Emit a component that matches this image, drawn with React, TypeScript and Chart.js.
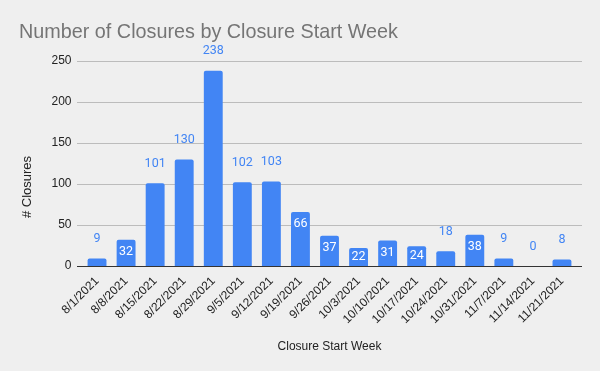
import React, { useEffect, useRef } from "react";
import { Chart, registerables } from "chart.js";

Chart.register(...registerables);

const weeks = [
  "8/1/2021", "8/8/2021", "8/15/2021", "8/22/2021", "8/29/2021", "9/5/2021",
  "9/12/2021", "9/19/2021", "9/26/2021", "10/3/2021", "10/10/2021", "10/17/2021",
  "10/24/2021", "10/31/2021", "11/7/2021", "11/14/2021", "11/21/2021",
];
const closures = [9, 32, 101, 130, 238, 102, 103, 66, 37, 22, 31, 24, 18, 38, 9, 0, 8];
const yTicks = [0, 50, 100, 150, 200, 250];

const TITLE = "Number of Closures by Closure Start Week";
const X_TITLE = "Closure Start Week";
const Y_TITLE = "# Closures";

const BLUE = "#4285f4";

const decor = {
  id: "decor",
  beforeDatasetsDraw(chart: any) {
    const { ctx, chartArea } = chart;
    const y = chart.scales.y;
    const l = chartArea.left - 5.5;
    const r = chartArea.right + 5.5;
    ctx.save();
    ctx.strokeStyle = "#bcbcbc";
    ctx.lineWidth = 1;
    yTicks.forEach((t) => {
      if (t === 0) return;
      const py = Math.round(y.getPixelForValue(t)) + 0.5;
      ctx.beginPath();
      ctx.moveTo(l, py);
      ctx.lineTo(r, py);
      ctx.stroke();
    });
    ctx.restore();
  },
  afterDatasetsDraw(chart: any) {
    const { ctx, chartArea } = chart;
    const y = chart.scales.y;
    const l = chartArea.left - 5.5;
    const r = chartArea.right + 5.5;
    ctx.save();
    const py0 = Math.round(y.getPixelForValue(0)) + 0.5;
    ctx.strokeStyle = "#333333";
    ctx.lineWidth = 1;
    ctx.beginPath();
    ctx.moveTo(l, py0);
    ctx.lineTo(r, py0);
    ctx.stroke();

    const meta = chart.getDatasetMeta(0);
    ctx.font = "12.5px Roboto";
    ctx.textAlign = "center";
    ctx.textBaseline = "middle";
    meta.data.forEach((bar: any, i: number) => {
      const v = closures[i];
      const top = bar.y;
      const base = bar.base;
      const inside = v >= 20 && v < 100;
      if (inside) {
        ctx.fillStyle = "#ffffff";
        const cy = Math.min(top + 12, (top + base) / 2);
        ctx.fillText(String(v), bar.x, cy);
      } else {
        ctx.fillStyle = BLUE;
        ctx.fillText(String(v), bar.x, top - 19.5);
      }
    });

    ctx.font = "19.8px 'Liberation Sans', Arial, sans-serif";
    ctx.fillStyle = "#757575";
    ctx.textAlign = "left";
    ctx.textBaseline = "alphabetic";
    ctx.fillText(TITLE, 19, 37.5);

    ctx.font = "12px 'Liberation Sans', Arial, sans-serif";
    ctx.fillStyle = "#222222";
    ctx.textAlign = "center";
    ctx.textBaseline = "middle";
    ctx.fillText(X_TITLE, (l + r) / 2, 347);

    ctx.font = "13px 'Liberation Sans', Arial, sans-serif";
    ctx.translate(27, 187);
    ctx.rotate(-Math.PI / 2);
    ctx.fillText(Y_TITLE, 0, 0);
    ctx.restore();
  },
};

export default function App() {
  const ref = useRef<HTMLCanvasElement | null>(null);

  useEffect(() => {
    document.body.style.margin = "0";
    document.body.style.background = "#efefef";
    const canvas = ref.current;
    if (!canvas) return;
    const chart = new Chart(canvas, {
      type: "bar",
      data: {
        labels: weeks,
        datasets: [
          {
            data: closures,
            backgroundColor: BLUE,
            barPercentage: 0.65,
            categoryPercentage: 1,
            borderRadius: { topLeft: 2, topRight: 2, bottomLeft: 0, bottomRight: 0 },
            borderSkipped: "bottom",
          },
        ],
      },
      options: {
        animation: false,
        responsive: false,
        maintainAspectRatio: false,
        layout: { padding: { top: 61, right: 23.5, left: 0, bottom: 0 } },
        plugins: {
          legend: { display: false },
          tooltip: { enabled: false },
          title: { display: false },
        },
        scales: {
          x: {
            grid: { display: false, drawTicks: false },
            border: { display: false },
            ticks: {
              minRotation: 45,
              maxRotation: 45,
              autoSkip: false,
              padding: 8,
              color: "#222222",
              font: { family: "'Liberation Sans', Arial, sans-serif", size: 12 },
            },
            afterFit(scale: any) {
              scale.height = 105;
            },
          },
          y: {
            min: 0,
            max: 250,
            grid: { display: false, drawTicks: false },
            border: { display: false },
            afterBuildTicks(scale: any) {
              scale.ticks = yTicks.map((v) => ({ value: v }));
            },
            ticks: {
              padding: 11,
              color: "#222222",
              font: { family: "'Liberation Sans', Arial, sans-serif", size: 12 },
            },
            afterFit(scale: any) {
              scale.width = 82.5;
            },
          },
        },
      },
      plugins: [decor],
    });
    return () => chart.destroy();
  }, []);

  return (
    <div style={{ width: 600, height: 371, background: "#efefef" }}>
      <canvas ref={ref} width={600} height={371} style={{ display: "block" }} />
    </div>
  );
}
